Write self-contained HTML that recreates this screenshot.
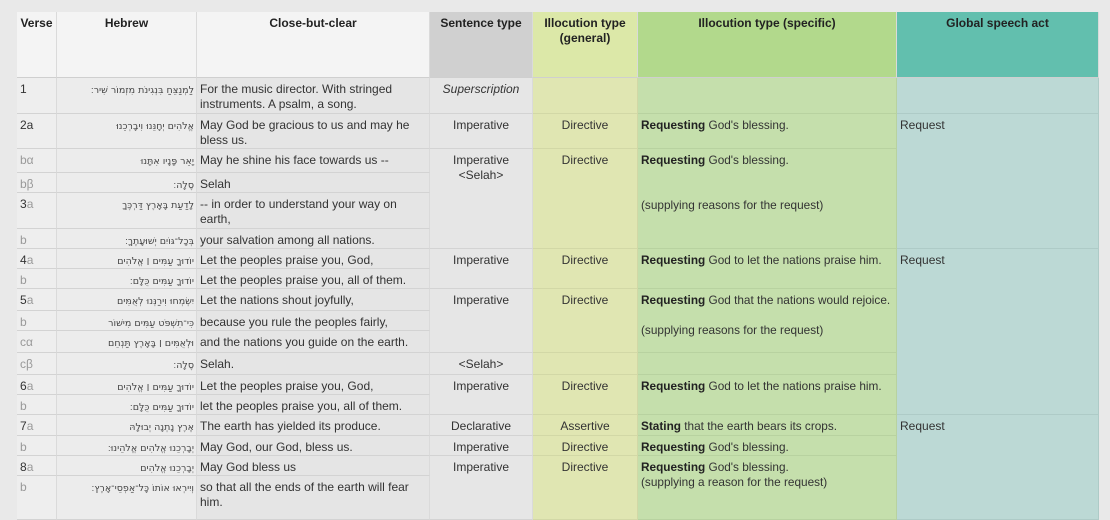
<!DOCTYPE html>
<html><head><meta charset="utf-8"><style>
body{margin:0;width:1110px;height:509px;background:#e9e9e9;overflow:hidden;position:relative;font-family:"Liberation Sans",sans-serif;color:#333;}
.c{position:absolute;box-sizing:border-box;font-size:12px;line-height:15px;padding:4px 3px 0 3px;border-bottom:1px solid #d3d3d3;border-right:1px solid #dadada;overflow:hidden;}
.h{font-weight:bold;text-align:center;color:#222;padding-top:4px;border-bottom:1px solid #cfcfcf;}
.v{background:#eeeeee;left:17px;width:40px;}
.hb{background:#ececec;left:57px;width:140px;direction:rtl;text-align:right;font-family:"DejaVu Sans",sans-serif;font-size:9.5px;color:#444;padding-left:1px;padding-right:2px;padding-top:5px;white-space:nowrap;}
.cb{background:#e5e5e5;left:197px;width:233px;}
.s{background:#e6e6e6;left:430px;width:103px;text-align:center;}
.g{background:#e0e6b2;left:533px;width:105px;text-align:center;border-color:#d2d8a6;}
.p{background:#c5dfac;left:638px;width:259px;border-color:#b8d2a0;font-size:11.8px;padding-right:1px;}
.a{background:#bcd9d5;left:897px;width:202px;border-color:#aecbc7;}
.gr{color:#999;}
b{color:#222;}
</style></head><body>
<div class="c h v" style="top:12px;height:66px;background:#f4f4f4">Verse</div>
<div class="c h" style="left:57px;width:140px;top:12px;height:66px;background:#f4f4f4;border-right:1px solid #dadada">Hebrew</div>
<div class="c h" style="left:197px;width:233px;top:12px;height:66px;background:#f4f4f4">Close-but-clear</div>
<div class="c h" style="left:430px;width:103px;top:12px;height:66px;background:#d0d0d0">Sentence type</div>
<div class="c h" style="left:533px;width:105px;top:12px;height:66px;background:#dce8a8">Illocution type (general)</div>
<div class="c h" style="left:638px;width:259px;top:12px;height:66px;background:#b2d98c">Illocution type (specific)</div>
<div class="c h" style="left:897px;width:202px;top:12px;height:66px;background:#62bfae">Global speech act</div>

<div class="c v" style="top:78px;height:36px">1</div><div class="c hb" style="top:78px;height:36px">לַמְנַצֵּחַ בִּנְגִינֹת מִזְמוֹר שִׁיר׃</div><div class="c cb" style="top:78px;height:36px">For the music director. With stringed instruments. A psalm, a song.</div>
<div class="c v" style="top:114px;height:35px">2a</div><div class="c hb" style="top:114px;height:35px">אֱלֹהִים יְחָנֵּנוּ וִיבָרְכֵנוּ</div><div class="c cb" style="top:114px;height:35px">May God be gracious to us and may he bless us.</div>
<div class="c v gr" style="top:149px;height:24px">bα</div><div class="c hb" style="top:149px;height:24px">יָאֵר פָּנָיו אִתָּנוּ</div><div class="c cb" style="top:149px;height:24px">May he shine his face towards us --</div>
<div class="c v gr" style="top:173px;height:20px">bβ</div><div class="c hb" style="top:173px;height:20px">סֶלָה׃</div><div class="c cb" style="top:173px;height:20px">Selah</div>
<div class="c v" style="top:193px;height:36px">3<span class="gr">a</span></div><div class="c hb" style="top:193px;height:36px">לָדַעַת בָּאָרֶץ דַּרְכֶּךָ</div><div class="c cb" style="top:193px;height:36px">-- in order to understand your way on earth,</div>
<div class="c v gr" style="top:229px;height:20px">b</div><div class="c hb" style="top:229px;height:20px">בְּכָל־גּוֹיִם יְשׁוּעָתֶךָ׃</div><div class="c cb" style="top:229px;height:20px">your salvation among all nations.</div>
<div class="c v" style="top:249px;height:20px">4<span class="gr">a</span></div><div class="c hb" style="top:249px;height:20px">יוֹדוּךָ עַמִּים ׀ אֱלֹהִים</div><div class="c cb" style="top:249px;height:20px">Let the peoples praise you, God,</div>
<div class="c v gr" style="top:269px;height:20px">b</div><div class="c hb" style="top:269px;height:20px">יוֹדוּךָ עַמִּים כֻּלָּם׃</div><div class="c cb" style="top:269px;height:20px">Let the peoples praise you, all of them.</div>
<div class="c v" style="top:289px;height:22px">5<span class="gr">a</span></div><div class="c hb" style="top:289px;height:22px">יִשְׂמְחוּ וִירַנְּנוּ לְאֻמִּים</div><div class="c cb" style="top:289px;height:22px">Let the nations shout joyfully,</div>
<div class="c v gr" style="top:311px;height:20px">b</div><div class="c hb" style="top:311px;height:20px">כִּי־תִשְׁפֹּט עַמִּים מִישׁוֹר</div><div class="c cb" style="top:311px;height:20px">because you rule the peoples fairly,</div>
<div class="c v gr" style="top:331px;height:22px">cα</div><div class="c hb" style="top:331px;height:22px">וּלְאֻמִּים ׀ בָּאָרֶץ תַּנְחֵם</div><div class="c cb" style="top:331px;height:22px">and the nations you guide on the earth.</div>
<div class="c v gr" style="top:353px;height:22px">cβ</div><div class="c hb" style="top:353px;height:22px">סֶלָה׃</div><div class="c cb" style="top:353px;height:22px">Selah.</div>
<div class="c v" style="top:375px;height:20px">6<span class="gr">a</span></div><div class="c hb" style="top:375px;height:20px">יוֹדוּךָ עַמִּים ׀ אֱלֹהִים</div><div class="c cb" style="top:375px;height:20px">Let the peoples praise you, God,</div>
<div class="c v gr" style="top:395px;height:20px">b</div><div class="c hb" style="top:395px;height:20px">יוֹדוּךָ עַמִּים כֻּלָּם׃</div><div class="c cb" style="top:395px;height:20px">let the peoples praise you, all of them.</div>
<div class="c v" style="top:415px;height:21px">7<span class="gr">a</span></div><div class="c hb" style="top:415px;height:21px">אֶרֶץ נָתְנָה יְבוּלָהּ</div><div class="c cb" style="top:415px;height:21px">The earth has yielded its produce.</div>
<div class="c v gr" style="top:436px;height:20px">b</div><div class="c hb" style="top:436px;height:20px">יְבָרְכֵנוּ אֱלֹהִים אֱלֹהֵינוּ׃</div><div class="c cb" style="top:436px;height:20px">May God, our God, bless us.</div>
<div class="c v" style="top:456px;height:20px">8<span class="gr">a</span></div><div class="c hb" style="top:456px;height:20px">יְבָרְכֵנוּ אֱלֹהִים</div><div class="c cb" style="top:456px;height:20px">May God bless us</div>
<div class="c v gr" style="top:476px;height:44px">b</div><div class="c hb" style="top:476px;height:44px">וְיִירְאוּ אוֹתוֹ כָּל־אַפְסֵי־אָרֶץ׃</div><div class="c cb" style="top:476px;height:44px">so that all the ends of the earth will fear him.</div>

<div class="c s" style="top:78px;height:36px"><i>Superscription</i></div>
<div class="c s" style="top:114px;height:35px">Imperative</div>
<div class="c s" style="top:149px;height:100px">Imperative<br>&lt;Selah&gt;</div>
<div class="c s" style="top:249px;height:40px">Imperative</div>
<div class="c s" style="top:289px;height:64px">Imperative</div>
<div class="c s" style="top:353px;height:22px">&lt;Selah&gt;</div>
<div class="c s" style="top:375px;height:40px">Imperative</div>
<div class="c s" style="top:415px;height:21px">Declarative</div>
<div class="c s" style="top:436px;height:20px">Imperative</div>
<div class="c s" style="top:456px;height:64px">Imperative</div>

<div class="c g" style="top:78px;height:36px"></div>
<div class="c g" style="top:114px;height:35px">Directive</div>
<div class="c g" style="top:149px;height:100px">Directive</div>
<div class="c g" style="top:249px;height:40px">Directive</div>
<div class="c g" style="top:289px;height:64px">Directive</div>
<div class="c g" style="top:353px;height:22px"></div>
<div class="c g" style="top:375px;height:40px">Directive</div>
<div class="c g" style="top:415px;height:21px">Assertive</div>
<div class="c g" style="top:436px;height:20px">Directive</div>
<div class="c g" style="top:456px;height:64px">Directive</div>

<div class="c p" style="top:78px;height:36px"></div>
<div class="c p" style="top:114px;height:35px"><b>Requesting</b> God's blessing.</div>
<div class="c p" style="top:149px;height:100px"><b>Requesting</b> God's blessing.<br><br><br>(supplying reasons for the request)</div>
<div class="c p" style="top:249px;height:40px"><b>Requesting</b> God to let the nations praise him.</div>
<div class="c p" style="top:289px;height:64px;white-space:nowrap"><b>Requesting</b> God that the nations would rejoice.<br><br>(supplying reasons for the request)</div>
<div class="c p" style="top:353px;height:22px"></div>
<div class="c p" style="top:375px;height:40px"><b>Requesting</b> God to let the nations praise him.</div>
<div class="c p" style="top:415px;height:21px"><b>Stating</b> that the earth bears its crops.</div>
<div class="c p" style="top:436px;height:20px"><b>Requesting</b> God's blessing.</div>
<div class="c p" style="top:456px;height:64px"><b>Requesting</b> God's blessing.<br>(supplying a reason for the request)</div>

<div class="c a" style="top:78px;height:36px"></div>
<div class="c a" style="top:114px;height:135px">Request</div>
<div class="c a" style="top:249px;height:166px">Request</div>
<div class="c a" style="top:415px;height:105px">Request</div>
</body></html>
